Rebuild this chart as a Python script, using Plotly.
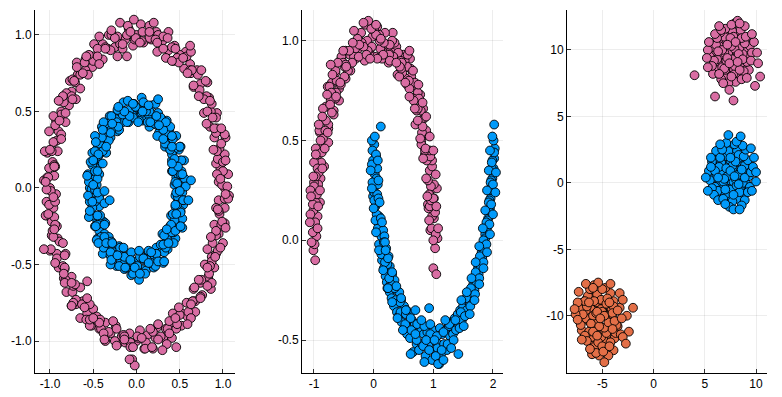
import plotly.graph_objects as go

# ---------------- data ----------------
# Panel 1: concentric circles
circle_outer = [
    (1.02, 0.00), (0.95, 0.04), (1.06, 0.09), (0.97, 0.13), (0.92, 0.16), (1.02, 0.22), (0.96, 0.26), (1.03, 0.33),
    (0.90, 0.33), (0.93, 0.39), (0.85, 0.40), (0.93, 0.49), (0.86, 0.50), (0.78, 0.49), (0.84, 0.59), (0.77, 0.59),
    (0.82, 0.69), (0.74, 0.68), (0.66, 0.66), (0.70, 0.77), (0.63, 0.75), (0.62, 0.81), (0.55, 0.78), (0.57, 0.89),
    (0.50, 0.87), (0.43, 0.83), (0.44, 0.93), (0.37, 0.90), (0.37, 1.02), (0.30, 0.96), (0.24, 0.89), (0.23, 1.02),
    (0.17, 0.97), (0.13, 1.01), (0.08, 0.95), (0.05, 1.07), (0.00, 1.00), (-0.04, 0.93), (-0.09, 1.04), (-0.13, 0.97),
    (-0.19, 1.08), (-0.22, 0.99), (-0.25, 0.92), (-0.32, 1.00), (-0.33, 0.91), (-0.39, 0.94), (-0.39, 0.84), (-0.49, 0.94),
    (-0.50, 0.86), (-0.51, 0.79), (-0.59, 0.84), (-0.59, 0.77), (-0.69, 0.82), (-0.68, 0.74), (-0.65, 0.65), (-0.77, 0.70),
    (-0.75, 0.63), (-0.81, 0.62), (-0.78, 0.54), (-0.89, 0.57), (-0.87, 0.50), (-0.82, 0.43), (-0.93, 0.44), (-0.90, 0.37),
    (-1.01, 0.37), (-0.95, 0.30), (-0.91, 0.24), (-1.03, 0.23), (-0.97, 0.17), (-1.01, 0.13), (-0.95, 0.08), (-1.07, 0.05),
    (-1.00, 0.00), (-0.93, -0.04), (-1.04, -0.09), (-0.96, -0.13), (-1.04, -0.18), (-0.98, -0.22), (-0.92, -0.25), (-0.98, -0.31),
    (-0.91, -0.33), (-1.00, -0.41), (-0.92, -0.43), (-0.82, -0.43), (-0.90, -0.52), (-0.83, -0.53), (-0.84, -0.59), (-0.75, -0.58),
    (-0.81, -0.68), (-0.74, -0.68), (-0.65, -0.65), (-0.70, -0.76), (-0.62, -0.74), (-0.65, -0.85), (-0.57, -0.82), (-0.50, -0.79),
    (-0.52, -0.90), (-0.45, -0.87), (-0.43, -0.92), (-0.36, -0.88), (-0.36, -1.00), (-0.30, -0.95), (-0.24, -0.90), (-0.22, -1.02),
    (-0.17, -0.97), (-0.13, -1.01), (-0.08, -0.95), (-0.05, -1.12), (0.00, -1.00), (0.04, -0.93), (0.09, -1.05), (0.13, -0.96),
    (0.19, -1.05), (0.22, -0.98), (0.24, -0.91), (0.31, -0.98), (0.34, -0.92), (0.41, -0.98), (0.42, -0.91), (0.42, -0.82),
    (0.52, -0.90), (0.52, -0.82), (0.59, -0.84), (0.58, -0.75), (0.68, -0.81), (0.68, -0.74), (0.66, -0.66), (0.76, -0.70),
    (0.74, -0.62), (0.86, -0.66), (0.83, -0.58), (0.79, -0.50), (0.90, -0.52), (0.87, -0.45), (0.92, -0.43), (0.88, -0.36),
    (1.00, -0.36), (0.95, -0.30), (0.90, -0.24), (1.02, -0.23), (0.96, -0.17), (1.02, -0.13), (0.95, -0.08), (1.07, -0.05),
    (0.99, 0.02), (1.00, 0.11), (0.94, 0.19), (0.98, 0.29), (0.92, 0.36), (0.92, 0.46), (0.82, 0.50), (0.81, 0.60),
    (0.73, 0.64), (0.71, 0.74), (0.62, 0.77), (0.58, 0.86), (0.47, 0.85), (0.41, 0.92), (0.31, 0.91), (0.25, 1.00),
    (0.15, 0.98), (0.07, 1.02), (-0.02, 0.97), (-0.11, 1.00), (-0.19, 0.94), (-0.29, 1.00), (-0.36, 0.92), (-0.45, 0.91),
    (-0.50, 0.83), (-0.60, 0.82), (-0.65, 0.74), (-0.74, 0.71), (-0.75, 0.60), (-0.84, 0.56), (-0.87, 0.48), (-0.94, 0.41),
    (-0.92, 0.31), (-0.98, 0.24), (-0.95, 0.15), (-1.03, 0.07), (-0.99, -0.02), (-1.01, -0.11), (-0.95, -0.19), (-0.97, -0.28),
    (-0.89, -0.35), (-0.92, -0.46), (-0.85, -0.51), (-0.82, -0.60), (-0.73, -0.64), (-0.70, -0.73), (-0.61, -0.76), (-0.58, -0.86),
    (-0.46, -0.84), (-0.41, -0.92), (-0.32, -0.94), (-0.25, -1.00), (-0.15, -0.96), (-0.07, -1.01), (0.02, -0.98), (0.11, -1.01),
    (0.19, -0.94), (0.28, -0.97), (0.36, -0.92), (0.46, -0.92), (0.50, -0.83), (0.60, -0.81), (0.65, -0.74), (0.74, -0.71),
    (0.75, -0.60), (0.84, -0.56), (0.87, -0.48), (0.94, -0.41), (0.92, -0.31), (0.98, -0.24), (0.95, -0.15), (1.02, -0.07),
    (1.05, 0.01), (0.93, 0.09), (1.00, 0.17), (0.93, 0.24), (1.02, 0.35), (0.90, 0.39), (0.81, 0.42), (0.87, 0.55),
    (0.78, 0.58), (0.80, 0.70), (0.66, 0.67), (0.64, 0.77), (0.63, 0.89), (0.49, 0.82), (0.45, 0.91), (0.34, 0.85),
    (0.31, 0.99), (0.22, 0.97), (0.15, 1.06), (0.06, 0.96), (-0.01, 0.98), (-0.10, 1.06), (-0.16, 0.91), (-0.25, 0.98),
    (-0.30, 0.90), (-0.43, 0.99), (-0.45, 0.86), (-0.55, 0.87), (-0.56, 0.74), (-0.69, 0.79), (-0.71, 0.69), (-0.70, 0.58),
    (-0.85, 0.60), (-0.82, 0.49), (-0.96, 0.47), (-0.87, 0.35), (-0.96, 0.30), (-1.06, 0.24), (-0.94, 0.14), (-1.02, 0.07),
    (-1.04, -0.01), (-0.94, -0.09), (-1.05, -0.18), (-0.94, -0.24), (-0.96, -0.32), (-0.85, -0.36), (-0.94, -0.49), (-0.83, -0.52),
    (-0.83, -0.62), (-0.71, -0.63), (-0.75, -0.77), (-0.63, -0.76), (-0.54, -0.76), (-0.54, -0.90), (-0.42, -0.86), (-0.38, -0.95),
    (-0.27, -0.87), (-0.23, -1.03), (-0.14, -0.97), (-0.07, -1.04), (0.01, -0.97), (0.10, -1.05), (0.16, -0.92), (0.25, -0.99),
    (0.35, -1.02), (0.38, -0.87), (0.47, -0.89), (0.49, -0.78), (0.63, -0.85), (0.65, -0.74), (0.74, -0.72), (0.72, -0.60),
    (0.87, -0.62), (0.85, -0.51), (0.82, -0.40), (0.97, -0.39), (0.92, -0.28), (0.99, -0.22), (0.92, -0.13), (1.06, -0.07),
    (0.97, 0.06), (1.03, 0.18), (0.89, 0.25), (0.98, 0.39), (0.88, 0.46), (0.85, 0.57), (0.72, 0.60), (0.75, 0.77),
    (0.59, 0.75), (0.54, 0.85), (0.41, 0.83), (0.36, 0.98), (0.24, 0.95), (0.15, 1.02), (0.04, 0.95),
    (-0.07, 1.02), (-0.16, 0.94), (-0.29, 1.03), (-0.36, 0.91), (-0.43, 0.81), (-0.58, 0.86), (-0.62, 0.75), (-0.72, 0.70),
    (-0.74, 0.58), (-0.90, 0.57), (-0.89, 0.44), (-0.87, 0.32), (-1.00, 0.25), (-0.95, 0.14), (-1.05, 0.04),
    (-0.96, -0.06), (-1.02, -0.17), (-0.95, -0.27), (-0.99, -0.40), (-0.83, -0.44), (-0.84, -0.56), (-0.75, -0.62), (-0.73, -0.75),
    (-0.57, -0.72), (-0.54, -0.86), (-0.43, -0.88), (-0.37, -0.99), (-0.23, -0.92), (-0.14, -0.99), (-0.04, -1.04),
    (0.06, -0.98), (0.18, -1.04), (0.25, -0.89), (0.38, -0.95), (0.45, -0.85), (0.59, -0.89), (0.63, -0.76), (0.67, -0.65),
    (0.82, -0.64), (0.82, -0.52), (0.91, -0.45), (0.86, -0.32), (1.03, -0.26), (0.94, -0.14), (1.03, -0.04),
    (-0.03, 1.10), (0.20, 1.08), (0.62, 0.93), (-0.22, 0.86), (-0.11, 0.86), (-0.02, -1.16), (-0.08, -1.12), (0.46, -1.04),
    (-0.60, -0.78), (-0.57, -0.61), (-0.75, -0.77), (-0.50, -0.85), (0.30, -1.06), (-1.07, -0.40),
]

circle_inner = [
    (0.50, 0.00), (0.44, 0.02), (0.56, 0.06), (0.46, 0.07), (0.52, 0.11), (0.41, 0.11), (0.55, 0.18), (0.46, 0.18),
    (0.41, 0.18), (0.49, 0.25), (0.45, 0.26), (0.39, 0.25), (0.46, 0.34), (0.33, 0.27), (0.38, 0.34), (0.38, 0.38),
    (0.32, 0.36), (0.35, 0.44), (0.26, 0.36), (0.28, 0.44), (0.24, 0.41), (0.25, 0.49), (0.20, 0.46), (0.15, 0.40),
    (0.18, 0.54), (0.13, 0.47), (0.11, 0.52), (0.07, 0.44), (0.06, 0.59), (0.03, 0.51), (0.00, 0.46), (-0.03, 0.55),
    (-0.05, 0.48), (-0.08, 0.51), (-0.09, 0.43), (-0.15, 0.56), (-0.15, 0.48), (-0.16, 0.43), (-0.22, 0.49), (-0.23, 0.45),
    (-0.22, 0.37), (-0.31, 0.47), (-0.28, 0.39), (-0.33, 0.41), (-0.30, 0.33), (-0.40, 0.40), (-0.37, 0.33), (-0.37, 0.30),
    (-0.44, 0.32), (-0.35, 0.23), (-0.45, 0.26), (-0.43, 0.22), (-0.51, 0.23), (-0.42, 0.16), (-0.50, 0.16), (-0.47, 0.13),
    (-0.43, 0.09), (-0.56, 0.09), (-0.51, 0.05), (-0.46, 0.02), (-0.54, 0.00), (-0.48, -0.03), (-0.42, -0.04), (-0.54, -0.09),
    (-0.49, -0.10), (-0.43, -0.12), (-0.54, -0.18), (-0.49, -0.19), (-0.43, -0.19), (-0.48, -0.25), (-0.38, -0.22), (-0.43, -0.28),
    (-0.45, -0.33), (-0.37, -0.30), (-0.39, -0.35), (-0.32, -0.32), (-0.39, -0.43), (-0.31, -0.39), (-0.27, -0.37), (-0.29, -0.45),
    (-0.25, -0.42), (-0.20, -0.38), (-0.23, -0.51), (-0.18, -0.48), (-0.15, -0.45), (-0.14, -0.53), (-0.10, -0.49), (-0.07, -0.43),
    (-0.06, -0.57), (-0.03, -0.52), (0.00, -0.48), (0.03, -0.60), (0.06, -0.53), (0.07, -0.45), (0.11, -0.54), (0.13, -0.48),
    (0.14, -0.42), (0.20, -0.52), (0.20, -0.45), (0.24, -0.47), (0.23, -0.39), (0.31, -0.48), (0.30, -0.41), (0.30, -0.37),
    (0.36, -0.40), (0.30, -0.30), (0.39, -0.35), (0.38, -0.31), (0.45, -0.33), (0.39, -0.25), (0.46, -0.27), (0.45, -0.23),
    (0.40, -0.18), (0.53, -0.20), (0.49, -0.16), (0.45, -0.12), (0.54, -0.11), (0.48, -0.08), (0.45, -0.05), (0.53, -0.03),
    (0.52, 0.01), (0.48, 0.09), (0.51, 0.18), (0.41, 0.22), (0.41, 0.32), (0.34, 0.36), (0.30, 0.44), (0.21, 0.43),
    (0.15, 0.50), (0.06, 0.49), (-0.01, 0.53), (-0.09, 0.47), (-0.17, 0.49), (-0.23, 0.43), (-0.32, 0.42), (-0.35, 0.33),
    (-0.43, 0.29), (-0.44, 0.21), (-0.51, 0.15), (-0.48, 0.06), (-0.52, -0.01), (-0.48, -0.09), (-0.50, -0.18), (-0.42, -0.23),
    (-0.41, -0.32), (-0.34, -0.36), (-0.30, -0.44), (-0.21, -0.43), (-0.15, -0.50), (-0.06, -0.49), (0.01, -0.53), (0.09, -0.47),
    (0.17, -0.49), (0.23, -0.43), (0.32, -0.42), (0.35, -0.33), (0.43, -0.29), (0.44, -0.21), (0.51, -0.15), (0.48, -0.06),
    (0.57, 0.01), (0.45, 0.04), (0.51, 0.09), (0.42, 0.11), (0.52, 0.18), (0.44, 0.19), (0.51, 0.27), (0.39, 0.25),
    (0.42, 0.32), (0.33, 0.29), (0.39, 0.40), (0.31, 0.38), (0.24, 0.34), (0.28, 0.46), (0.21, 0.42), (0.22, 0.55),
    (0.13, 0.43), (0.11, 0.50), (0.08, 0.56), (0.03, 0.44), (-0.01, 0.53), (-0.04, 0.46), (-0.10, 0.57), (-0.11, 0.43),
    (-0.16, 0.48), (-0.22, 0.51), (-0.20, 0.38), (-0.29, 0.47), (-0.29, 0.38), (-0.38, 0.43), (-0.32, 0.31), (-0.40, 0.33),
    (-0.48, 0.34), (-0.39, 0.24), (-0.48, 0.24), (-0.39, 0.16), (-0.53, 0.17), (-0.48, 0.11), (-0.45, 0.06), (-0.55, 0.04),
    (-0.48, -0.01), (-0.56, -0.05), (-0.43, -0.07), (-0.51, -0.13), (-0.55, -0.19), (-0.42, -0.18), (-0.45, -0.24), (-0.36, -0.23),
    (-0.46, -0.34), (-0.37, -0.32), (-0.38, -0.39), (-0.29, -0.35), (-0.30, -0.42), (-0.30, -0.50), (-0.19, -0.39), (-0.20, -0.51),
    (-0.14, -0.45), (-0.12, -0.52), (-0.06, -0.42), (-0.04, -0.56), (0.01, -0.51), (0.04, -0.45), (0.10, -0.56), (0.12, -0.47),
    (0.14, -0.41), (0.22, -0.51), (0.23, -0.43), (0.31, -0.49), (0.28, -0.37), (0.34, -0.39), (0.32, -0.31), (0.43, -0.36),
    (0.41, -0.29), (0.40, -0.24), (0.53, -0.26), (0.42, -0.17), (0.51, -0.16), (0.47, -0.11), (0.54, -0.08), (0.46, -0.03),
    (0.47, 0.03), (0.53, 0.09), (0.48, 0.14), (0.41, 0.16), (0.50, 0.27), (0.41, 0.27), (0.41, 0.34), (0.31, 0.32),
    (0.34, 0.43), (0.26, 0.41), (0.23, 0.47), (0.16, 0.43), (0.14, 0.54), (0.07, 0.50), (0.02, 0.43),
    (-0.04, 0.55), (-0.08, 0.47), (-0.14, 0.50), (-0.21, 0.53), (-0.21, 0.40), (-0.28, 0.42), (-0.30, 0.36), (-0.39, 0.38),
    (-0.35, 0.27), (-0.47, 0.30), (-0.44, 0.22), (-0.50, 0.18), (-0.45, 0.11), (-0.57, 0.08), (-0.50, 0.02),
    (-0.45, -0.03), (-0.51, -0.09), (-0.54, -0.15), (-0.45, -0.18), (-0.47, -0.25), (-0.37, -0.24), (-0.44, -0.36), (-0.35, -0.36),
    (-0.28, -0.36), (-0.29, -0.47), (-0.22, -0.44), (-0.15, -0.39), (-0.13, -0.52), (-0.07, -0.47), (-0.02, -0.52),
    (0.04, -0.56), (0.08, -0.46), (0.14, -0.49), (0.17, -0.42), (0.25, -0.48), (0.32, -0.48), (0.31, -0.37), (0.37, -0.36),
    (0.35, -0.27), (0.45, -0.28), (0.51, -0.25), (0.46, -0.17), (0.45, -0.11), (0.54, -0.08), (0.50, -0.02),
    (0.25, 0.58), (0.63, 0.05), (0.60, -0.08), (-0.37, -0.02), (-0.37, -0.10), (-0.31, -0.08), (0.03, -0.41),
]

# Panel 2: two interleaving half moons
moon_upper = [
    (1.03, -0.04), (0.95, 0.05), (1.01, 0.11), (1.07, 0.01), (0.98, 0.12), (0.91, 0.18), (1.03, 0.14), (0.98, 0.26),
    (0.92, 0.16), (1.06, 0.26), (0.94, 0.17), (1.01, 0.28), (0.94, 0.35), (0.96, 0.27), (0.86, 0.43), (0.98, 0.37),
    (0.87, 0.43), (0.98, 0.40), (0.80, 0.50), (0.89, 0.40), (0.90, 0.53), (0.80, 0.48), (0.84, 0.61), (0.88, 0.55),
    (0.79, 0.60), (0.83, 0.66), (0.70, 0.58), (0.78, 0.73), (0.79, 0.65), (0.70, 0.72), (0.72, 0.65), (0.63, 0.77),
    (0.74, 0.74), (0.63, 0.82), (0.67, 0.71), (0.54, 0.81), (0.62, 0.86), (0.56, 0.78), (0.61, 0.91), (0.48, 0.84),
    (0.52, 0.90), (0.40, 0.83), (0.50, 0.93), (0.43, 0.82), (0.38, 0.97), (0.45, 0.90), (0.31, 0.94), (0.35, 0.99),
    (0.25, 0.89), (0.32, 1.04), (0.25, 0.94), (0.31, 1.00), (0.14, 0.91), (0.19, 1.04), (0.21, 0.98), (0.09, 1.03),
    (0.14, 0.95), (0.06, 1.07), (0.11, 0.96), (-0.02, 1.02), (0.02, 0.92), (0.01, 1.05), (-0.11, 1.00), (-0.07, 0.94),
    (-0.14, 1.08), (-0.06, 0.96), (-0.24, 1.03), (-0.15, 0.90), (-0.21, 1.04), (-0.28, 0.95), (-0.20, 0.99), (-0.30, 0.91),
    (-0.27, 1.01), (-0.40, 0.93), (-0.31, 0.96), (-0.39, 0.85), (-0.33, 0.92), (-0.47, 0.95), (-0.43, 0.85), (-0.54, 0.91),
    (-0.47, 0.81), (-0.54, 0.92), (-0.49, 0.82), (-0.64, 0.84), (-0.58, 0.76), (-0.64, 0.85), (-0.58, 0.70), (-0.70, 0.79),
    (-0.64, 0.71), (-0.77, 0.77), (-0.67, 0.65), (-0.74, 0.77), (-0.67, 0.63), (-0.80, 0.67), (-0.76, 0.56), (-0.85, 0.66),
    (-0.76, 0.58), (-0.84, 0.61), (-0.76, 0.49), (-0.90, 0.54), (-0.86, 0.46), (-0.91, 0.55), (-0.83, 0.37), (-0.97, 0.46),
    (-0.88, 0.39), (-0.93, 0.43), (-0.89, 0.31), (-1.00, 0.39), (-0.93, 0.28), (-1.00, 0.29), (-0.90, 0.19), (-1.00, 0.27),
    (-0.97, 0.19), (-1.06, 0.25), (-0.94, 0.12), (-1.01, 0.15), (-0.97, 0.05), (-1.06, 0.13), (-0.96, 0.02), (-1.01, -0.05),
    (-0.98, -0.10),
    (0.97, 0.06), (1.04, 0.03), (0.96, 0.20), (1.01, 0.21), (0.93, 0.23), (1.00, 0.21), (0.91, 0.30), (0.95, 0.42),
    (0.94, 0.45), (0.86, 0.45), (0.87, 0.46), (0.81, 0.54), (0.82, 0.57), (0.74, 0.66), (0.76, 0.71), (0.67, 0.70),
    (0.69, 0.79), (0.60, 0.76), (0.59, 0.80), (0.56, 0.87), (0.47, 0.89), (0.46, 0.86), (0.41, 0.94), (0.33, 0.92),
    (0.27, 0.98), (0.26, 0.93), (0.17, 0.99), (0.16, 0.93), (0.10, 1.00), (0.04, 1.03), (-0.03, 0.97), (-0.04, 1.06),
    (-0.10, 0.95), (-0.17, 0.97), (-0.24, 0.98), (-0.25, 0.92), (-0.35, 0.99), (-0.36, 0.89), (-0.41, 0.95), (-0.49, 0.87),
    (-0.51, 0.89), (-0.55, 0.78), (-0.62, 0.80), (-0.63, 0.74), (-0.71, 0.74), (-0.72, 0.70), (-0.73, 0.68), (-0.80, 0.60),
    (-0.81, 0.55), (-0.85, 0.51), (-0.89, 0.50), (-0.87, 0.44), (-0.94, 0.36), (-0.92, 0.34), (-0.97, 0.32), (-0.95, 0.23),
    (-1.02, 0.18), (-0.98, 0.09), (-1.02, 0.04), (-0.99, -0.02),
    (1.08, 0.06), (0.93, 0.10), (1.05, 0.17), (0.90, 0.22), (1.04, 0.33), (0.88, 0.31), (1.00, 0.45), (0.83, 0.41),
    (0.94, 0.52), (0.78, 0.51), (0.88, 0.62), (0.74, 0.60), (0.82, 0.69), (0.69, 0.66), (0.75, 0.78), (0.60, 0.72),
    (0.66, 0.85), (0.53, 0.79), (0.57, 0.93), (0.44, 0.87), (-0.51, 0.95), (-0.47, 0.88), (-0.60, 0.89), (-0.56, 0.79),
    (-0.69, 0.83), (-0.63, 0.72), (-0.78, 0.73), (-0.70, 0.64), (-0.86, 0.62), (-0.77, 0.54), (-0.92, 0.58), (-0.82, 0.46),
    (-0.97, 0.43), (-0.86, 0.36), (-1.01, 0.32), (-0.90, 0.25), (-1.05, 0.22), (-0.93, 0.17), (-1.07, 0.09), (-0.94, 0.06),
    (-1.04, -0.01), (0.12, 1.01), (-0.33, 1.05), (0.27, 0.90), (-0.46, 0.87), (0.38, 0.89), (-0.12, 0.93),
    (1.00, -0.14), (1.05, -0.17), (1.00, 0.00), (-0.09, 1.10), (-0.17, 1.09), (0.04, 1.08), (-0.72, 0.88),
    (0.06, 0.91), (-0.06, 0.91), (0.60, 0.95),
]

moon_lower = [
    (0.01, 0.48), (-0.03, 0.50), (0.04, 0.42), (-0.02, 0.45), (0.02, 0.33), (-0.01, 0.40), (0.06, 0.36), (0.00, 0.25),
    (0.05, 0.31), (-0.01, 0.22), (0.07, 0.28), (0.03, 0.17), (0.01, 0.24), (0.09, 0.12), (0.04, 0.18), (0.11, 0.08),
    (0.05, 0.13), (0.13, 0.02), (0.07, 0.06), (0.16, 0.05), (0.11, -0.05), (0.18, 0.02), (0.14, -0.10), (0.21, -0.04),
    (0.17, -0.14), (0.25, -0.08), (0.20, -0.18), (0.27, -0.13), (0.22, -0.21), (0.31, -0.17), (0.27, -0.26), (0.35, -0.20),
    (0.30, -0.29), (0.38, -0.25), (0.34, -0.33), (0.43, -0.26), (0.39, -0.36), (0.46, -0.30), (0.42, -0.38), (0.51, -0.33),
    (0.47, -0.41), (0.55, -0.35), (0.52, -0.44), (0.60, -0.37), (0.56, -0.47), (0.64, -0.40), (0.61, -0.49), (0.69, -0.42),
    (0.66, -0.56), (0.74, -0.43), (0.72, -0.52), (0.80, -0.45), (0.76, -0.55), (0.84, -0.47), (0.81, -0.52), (0.90, -0.46),
    (0.87, -0.58), (0.95, -0.49), (0.92, -0.53), (1.00, -0.45), (0.98, -0.60), (1.05, -0.51), (1.03, -0.56), (1.11, -0.44),
    (1.07, -0.54), (1.15, -0.47), (1.13, -0.57), (1.21, -0.45), (1.18, -0.52), (1.26, -0.43), (1.23, -0.55), (1.30, -0.41),
    (1.28, -0.48), (1.36, -0.39), (1.33, -0.47), (1.41, -0.37), (1.38, -0.45), (1.45, -0.35), (1.43, -0.42), (1.50, -0.33),
    (1.48, -0.40), (1.55, -0.30), (1.52, -0.37), (1.59, -0.27), (1.56, -0.35), (1.63, -0.25), (1.61, -0.31), (1.67, -0.22),
    (1.65, -0.28), (1.71, -0.18), (1.69, -0.25), (1.75, -0.14), (1.72, -0.21), (1.78, -0.10), (1.76, -0.17), (1.81, -0.06),
    (1.79, -0.13), (1.85, -0.02), (1.82, -0.09), (1.87, 0.03), (1.85, -0.05), (1.90, 0.07), (1.87, 0.01), (1.92, 0.11),
    (1.90, 0.06), (1.95, 0.16), (1.91, 0.10), (1.96, 0.21), (1.93, 0.15), (1.98, 0.25), (1.94, 0.20), (1.99, 0.31),
    (1.96, 0.26), (2.01, 0.36), (1.97, 0.30), (2.02, 0.41), (1.98, 0.36), (2.03, 0.46), (1.99, 0.40), (2.01, 0.50),
    (2.02, 0.58),
    (0.02, 0.52), (-0.03, 0.38), (0.04, 0.43), (-0.02, 0.29), (0.06, 0.23), (0.01, 0.20), (0.08, 0.21), (0.03, 0.10),
    (0.12, 0.11), (0.09, -0.02), (0.17, -0.01), (0.13, -0.07), (0.23, -0.12), (0.19, -0.11), (0.29, -0.22), (0.26, -0.19),
    (0.37, -0.30), (0.35, -0.24), (0.45, -0.36), (0.44, -0.31), (0.53, -0.42), (0.54, -0.37), (0.63, -0.45), (0.62, -0.39),
    (0.72, -0.50), (0.73, -0.42), (0.83, -0.53), (0.85, -0.43), (0.93, -0.55), (0.95, -0.47), (1.04, -0.58), (1.06, -0.48),
    (1.14, -0.55), (1.17, -0.46), (1.24, -0.52), (1.27, -0.42), (1.34, -0.50), (1.37, -0.40), (1.44, -0.44), (1.46, -0.36),
    (1.53, -0.38), (1.55, -0.29), (1.62, -0.33), (1.63, -0.24), (1.70, -0.27), (1.71, -0.16), (1.77, -0.19), (1.78, -0.08),
    (1.84, -0.11), (1.84, 0.00), (1.89, -0.02), (1.89, 0.09), (1.94, 0.08), (1.93, 0.19), (1.97, 0.18), (1.96, 0.29),
    (2.00, 0.28), (1.98, 0.39), (2.02, 0.44), (1.99, 0.52),
    (0.07, 0.40), (-0.05, 0.35), (0.08, 0.30), (-0.03, 0.26), (0.10, 0.19), (0.00, 0.16), (0.14, 0.09), (0.04, 0.04),
    (0.19, -0.01), (0.09, -0.05), (0.24, -0.09), (0.16, -0.15), (0.31, -0.16), (0.23, -0.24), (0.38, -0.23), (0.31, -0.31),
    (0.46, -0.29), (0.40, -0.39), (0.54, -0.35), (0.49, -0.45), (1.51, -0.43), (1.47, -0.30), (1.61, -0.37), (1.56, -0.26),
    (1.69, -0.30), (1.64, -0.19), (1.77, -0.22), (1.71, -0.11), (1.84, -0.14), (1.77, -0.03), (1.90, -0.06), (1.83, 0.06),
    (1.95, 0.03), (1.87, 0.15), (2.00, 0.13), (1.90, 0.25), (2.04, 0.24), (1.93, 0.35), (2.05, 0.34), (1.95, 0.45),
    (0.80, -0.40), (1.20, -0.40), (0.95, -0.42), (1.10, -0.62), (0.70, -0.47), (1.30, -0.54), (0.88, -0.50), (1.02, -0.50),
    (0.12, 0.57), (0.93, -0.34), (0.62, -0.57), (1.42, -0.57), (1.08, -0.62), (0.20, -0.05), (0.24, -0.24),
    (0.85, -0.61), (1.17, -0.60), (0.70, -0.35),
]

# Panel 3: three isotropic blobs
blob_pink = [
    (7.7, 9.8), (6.9, 10.5), (8.4, 9.3), (6.5, 9.0), (7.9, 10.9), (7.3, 8.4), (8.9, 10.1), (6.0, 9.8), (8.2, 8.6), (7.0, 10.0),
    (8.6, 10.6), (6.6, 8.3), (7.6, 9.1), (9.2, 9.4), (5.9, 8.9), (8.1, 10.3), (7.2, 11.1), (8.5, 8.1), (6.3, 10.7), (7.7, 7.8),
    (6.8, 9.4), (8.9, 8.8), (7.3, 10.2), (8.0, 9.5), (6.1, 8.5), (8.3, 11.2), (6.9, 8.0), (9.4, 10.3), (5.7, 10.2), (7.5, 10.6),
    (8.7, 9.7), (6.5, 9.6), (7.8, 8.2), (7.1, 8.9), (9.0, 10.9), (6.2, 9.3), (8.1, 9.9), (7.4, 8.7), (8.5, 9.0), (6.9, 11.0),
    (9.3, 8.5), (5.5, 9.5), (7.7, 11.4), (6.7, 8.7), (8.4, 10.2), (7.3, 9.8), (8.0, 7.6), (6.4, 10.3), (8.8, 8.4), (7.0, 8.5),
    (8.2, 10.8), (6.1, 10.4), (7.7, 9.3), (9.6, 9.8), (5.8, 8.2), (7.9, 10.1), (7.3, 7.5), (8.5, 11.5), (6.5, 11.3), (8.1, 8.9),
    (6.9, 9.8), (8.9, 10.5), (6.6, 7.8), (7.6, 10.3), (9.1, 9.1), (5.3, 10.0), (7.8, 11.0), (7.1, 9.2), (8.6, 7.8), (6.2, 10.9),
    (7.2, 9.4), (8.3, 9.7), (7.9, 8.8), (6.7, 10.0), (7.5, 10.9), (8.7, 9.3), (6.9, 8.6), (7.6, 8.0), (8.6, 10.9), (6.3, 9.9),
    (9.5, 9.2), (5.9, 9.2), (7.0, 11.6), (8.9, 11.8), (6.0, 11.2), (8.0, 10.6), (7.4, 9.0), (9.8, 10.6), (5.7, 8.8), (6.8, 7.5),
    (8.4, 8.5), (9.1, 7.9), (6.6, 11.5), (7.9, 12.0), (10.2, 9.0), (5.2, 9.4), (9.0, 11.0), (7.2, 10.4), (8.2, 9.1), (6.4, 8.2),
    (4.0, 8.1), (6.0, 6.5), (7.8, 6.2), (10.4, 8.0), (9.9, 7.3), (5.4, 10.6), (8.2, 12.2), (7.6, 11.9), (6.4, 11.8),
    (5.3, 8.7), (10.1, 9.8), (9.6, 11.2), (7.4, 7.0), (8.4, 12.0),
]

blob_blue = [
    (7.7, 0.5), (8.4, 1.3), (7.2, -0.2), (6.9, 1.7), (8.8, 0.3), (6.3, 0.9), (8.0, -0.7), (7.7, 2.2), (6.5, 0.0), (7.9, 1.2),
    (8.5, -0.4), (6.2, 1.6), (7.0, 0.6), (7.3, -1.0), (6.8, 2.3), (8.2, 0.1), (9.0, 1.0), (6.0, -0.3), (8.6, 1.9), (5.7, 0.5),
    (7.3, 1.4), (6.7, -0.7), (8.1, 0.9), (7.4, 0.2), (6.4, 2.1), (9.1, -0.1), (5.9, 1.3), (8.2, -1.2), (8.1, 2.5), (8.5, 0.7),
    (7.6, -0.5), (7.5, 1.7), (6.1, 0.4), (6.8, 1.1), (8.8, -0.8), (7.2, 2.0), (7.8, 0.1), (6.6, 0.8), (6.9, -0.3), (8.9, 1.3),
    (6.4, -1.1), (7.4, 2.7), (9.3, 0.5), (6.6, 1.5), (8.1, -0.2), (7.7, 0.9), (5.5, 0.2), (8.2, 1.8), (6.3, -0.6), (6.4, 1.2),
    (8.7, 0.0), (8.3, 2.1), (7.2, 0.5), (7.7, -1.4), (6.1, 2.4), (8.0, 0.3), (5.4, 0.9), (9.4, -0.3), (9.2, 1.7), (6.8, 0.1),
    (7.7, 1.3), (8.4, -0.7), (5.7, 1.6), (8.2, 0.6), (7.0, -0.9), (7.9, 2.9), (8.9, 0.4), (7.1, 1.1), (5.7, -0.4), (8.8, 2.0),
    (7.5, 0.9), (8.0, 1.6), (6.9, 0.3), (7.3, 2.4), (8.6, 1.0), (6.5, 1.9), (7.8, -0.9), (9.0, 2.5), (6.0, 0.9), (8.3, -0.1),
    (7.0, -0.5), (9.5, 0.8), (5.9, -0.9), (7.1, 3.0), (8.7, 2.8), (6.3, -1.3), (8.9, -1.3), (7.4, -1.8), (9.7, 1.2), (5.6, 1.2),
    (6.7, 2.5), (8.1, 3.1), (7.9, 0.5), (6.3, 0.4), (9.2, -0.7), (7.5, 1.9), (6.8, -1.2), (8.6, -1.7), (10.0, 0.8), (5.1, 0.4),
    (8.5, 3.5), (7.3, 3.6), (7.8, -2.0), (8.4, -2.0), (10.0, 0.1), (9.8, 1.9), (5.3, -0.6), (6.5, 2.9),
    (9.6, -0.6), (5.6, 1.9), (7.0, -1.6), (9.5, 2.6),
]

blob_orange = [
    (-5.4, -9.2), (-4.6, -11.5), (-6.0, -10.7), (-4.2, -10.4), (-5.6, -10.9), (-5.0, -9.5), (-6.5, -8.7), (-3.8, -11.7),
    (-5.9, -9.1), (-4.8, -12.0), (-6.3, -10.4), (-4.4, -11.0), (-5.3, -9.6), (-6.8, -10.3), (-3.7, -11.3), (-5.7, -8.6),
    (-4.9, -11.8), (-6.1, -9.5), (-4.1, -9.6), (-5.5, -9.0), (-4.5, -10.1), (-6.6, -10.2), (-5.1, -11.6), (-5.7, -11.1),
    (-3.9, -8.9), (-6.0, -10.5), (-4.7, -9.9), (-7.0, -11.1), (-3.5, -10.8), (-5.2, -8.8), (-6.3, -11.3), (-4.3, -10.3),
    (-5.5, -8.4), (-4.8, -11.1), (-6.6, -9.6), (-4.0, -10.0), (-5.8, -12.2), (-5.1, -9.5), (-6.2, -11.4), (-4.6, -11.3),
    (-6.9, -9.0), (-3.3, -9.4), (-5.4, -10.5), (-4.5, -10.0), (-6.0, -11.6), (-5.0, -9.7), (-5.7, -12.3), (-4.2, -8.3),
    (-6.4, -8.5), (-4.8, -10.9), (-5.9, -10.0), (-3.9, -9.3), (-5.4, -12.0), (-7.2, -9.5), (-3.6, -10.7), (-5.6, -9.8),
    (-5.1, -8.8), (-6.1, -10.6), (-4.2, -12.0), (-5.8, -8.9), (-4.7, -10.0), (-6.5, -9.3), (-4.4, -10.5), (-5.3, -10.8),
    (-6.7, -8.9), (-3.2, -11.4), (-5.5, -9.7), (-4.8, -10.0), (-6.3, -11.2), (-4.0, -9.8),
    (-5.2, -10.2), (-4.6, -9.1), (-5.9, -11.2), (-6.9, -9.9), (-3.8, -10.4), (-5.5, -11.5), (-4.5, -8.7), (-6.3, -9.0),
    (-5.0, -12.3), (-4.0, -11.0), (-6.7, -11.5), (-3.5, -9.6), (-7.4, -9.0), (-5.8, -7.7), (-4.7, -7.9), (-6.0, -12.9),
    (-3.9, -12.6), (-7.1, -10.7), (-2.6, -10.0), (-5.3, -13.0), (-6.2, -8.0), (-3.3, -8.3), (-4.3, -9.0), (-6.5, -11.9),
    (-2.4, -11.2), (-7.6, -9.9), (-5.6, -12.8), (-4.4, -13.0), (-3.0, -11.6), (-5.0, -8.0),
    (-4.8, -13.5), (-2.0, -9.4), (-2.7, -12.1), (-7.7, -9.5), (-6.6, -7.6), (-5.4, -7.5), (-4.2, -7.6), (-6.2, -12.5),
    (-4.9, -12.7), (-7.4, -10.3), (-3.0, -8.8), (-4.3, -12.3), (-7.3, -8.2), (-3.1, -10.2), (-5.9, -7.9), (-7.0, -11.8),
]

# tick labels
ticks_x1 = [-1.0, -0.5, 0.0, 0.5, 1.0]
ticks_x1_text = ["-1.0", "-0.5", "0.0", "0.5", "1.0"]
ticks_y1 = [-1.0, -0.5, 0.0, 0.5, 1.0]
ticks_y1_text = ["-1.0", "-0.5", "0.0", "0.5", "1.0"]
ticks_x2 = [-1, 0, 1, 2]
ticks_x2_text = ["-1", "0", "1", "2"]
ticks_y2 = [-0.5, 0.0, 0.5, 1.0]
ticks_y2_text = ["-0.5", "0.0", "0.5", "1.0"]
ticks_x3 = [-5, 0, 5, 10]
ticks_x3_text = ["-5", "0", "5", "10"]
ticks_y3 = [-10, -5, 0, 5, 10]
ticks_y3_text = ["-10", "-5", "0", "5", "10"]

# ---------------- styling ----------------
BLUE = "#009AFA"
ORANGE = "#E36F47"
PINK = "#D96DA3"
W, H = 782, 397


def scatter(points, color, xa, ya):
    return go.Scatter(
        x=[p[0] for p in points], y=[p[1] for p in points],
        mode="markers", xaxis=xa, yaxis=ya, showlegend=False, hoverinfo="skip",
        marker=dict(size=8.8, color=color, line=dict(color="rgba(0,0,0,0.9)", width=1)),
    )


fig = go.Figure()
fig.add_trace(scatter(circle_inner, BLUE, "x", "y"))
fig.add_trace(scatter(circle_outer, PINK, "x", "y"))
fig.add_trace(scatter(moon_lower, BLUE, "x2", "y2"))
fig.add_trace(scatter(moon_upper, PINK, "x2", "y2"))
fig.add_trace(scatter(blob_orange, ORANGE, "x3", "y3"))
fig.add_trace(scatter(blob_blue, BLUE, "x3", "y3"))
fig.add_trace(scatter(blob_pink, PINK, "x3", "y3"))

ybot = 1 - 373 / H
ytop = 1 - 10 / H


def ax(domain, rng, vals, text, anchor):
    return dict(
        domain=domain, range=rng, tickvals=vals, ticktext=text, anchor=anchor,
        automargin=False,
        showline=True, linecolor="black", linewidth=1, mirror=False,
        showgrid=True, gridcolor="rgba(0,0,0,0.07)", gridwidth=1, zeroline=False,
        ticks="inside", ticklen=4, tickcolor="rgba(0,0,0,0.8)", tickwidth=1,
        tickfont=dict(family="Liberation Sans, Arial, sans-serif", size=12, color="black"),
        fixedrange=True,
    )


fig.update_layout(
    width=W, height=H, margin=dict(l=0, r=0, t=0, b=0),
    paper_bgcolor="white", plot_bgcolor="white",
    xaxis=ax([35 / W, 235 / W], [-1.173, 1.139], ticks_x1, ticks_x1_text, "y"),
    yaxis=ax([ybot, ytop], [-1.209, 1.163], ticks_y1, ticks_y1_text, "x"),
    xaxis2=ax([302 / W, 503 / W], [-1.201, 2.168], ticks_x2, ticks_x2_text, "y2"),
    yaxis2=ax([ybot, ytop], [-0.665, 1.154], ticks_y2, ticks_y2_text, "x2"),
    xaxis3=ax([567 / W, 767 / W], [-8.44, 11.07], ticks_x3, ticks_x3_text, "y3"),
    yaxis3=ax([ybot, ytop], [-14.31, 13.01], ticks_y3, ticks_y3_text, "x3"),
)

fig.write_html(
    "out.html",
    config={"displayModeBar": False},
    post_script="document.body.style.margin='0';document.body.style.overflow='hidden';",
)
